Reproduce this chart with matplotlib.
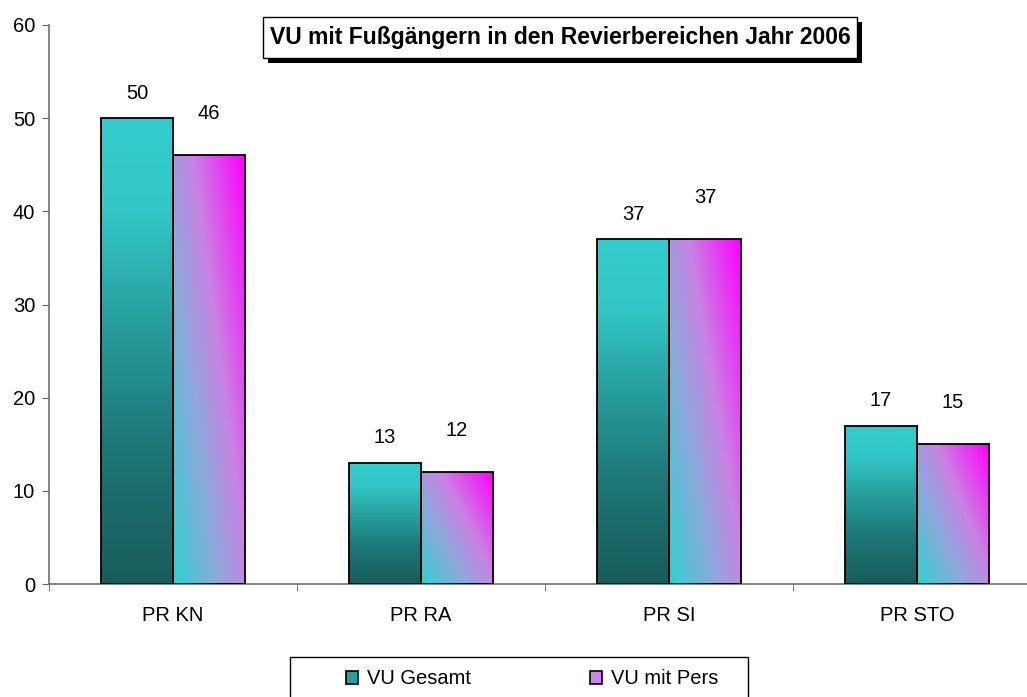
import matplotlib
matplotlib.use("Agg")
import matplotlib.pyplot as plt
import numpy as np
from matplotlib.colors import LinearSegmentedColormap
from matplotlib.patches import Rectangle, Patch

plt.rcParams['font.family'] = ['Liberation Sans', 'DejaVu Sans']

categories = ["PR KN", "PR RA", "PR SI", "PR STO"]
vu_gesamt = [50, 13, 37, 17]
vu_mit_pers = [46, 12, 37, 15]
series_names = ["VU Gesamt", "VU mit Pers"]
title = "VU mit Fußgängern in den Revierbereichen Jahr 2006"
yticks = [0, 10, 20, 30, 40, 50, 60]

W, H = 1027, 697
fig = plt.figure(figsize=(W / 100, H / 100), dpi=100)
ax_left = 49 / W
ax_right = (49 + 4 * 248) / W
ax_bottom = (H - 584) / H
ax_top = (H - 25) / H
ax = fig.add_axes([ax_left, ax_bottom, ax_right - ax_left, ax_top - ax_bottom])

x = np.arange(len(categories))
bw = 72 / 248

teal_cmap = LinearSegmentedColormap.from_list(
    "teal", [(0, "#185c5c"), (0.3, "#1e7777"), (0.6, "#29a4a4"), (0.8, "#33c6c6"), (1, "#33cccc")])
mag_cmap = LinearSegmentedColormap.from_list(
    "mag", [(0, "#33d0d0"), (0.35, "#90a8dc"), (0.6, "#cc80e4"), (1, "#ff00ff")])

ax.set_xlim(-0.5, len(categories) - 0.5)
ax.set_ylim(0, 60)

def grad_bar(xc, h, cmap, kind):
    rect = Rectangle((xc - bw / 2, 0), bw, h, facecolor="none", edgecolor="black", lw=1.3, zorder=3)
    ax.add_patch(rect)
    n = 200
    if kind == "v":
        img = np.linspace(0, 1, n)[:, None] * np.ones((1, 2))
    else:
        u = np.linspace(0, 1, n)[None, :]
        v = np.linspace(0, 1, n)[:, None]
        img = 0.55 * u + 0.45 * v
    im = ax.imshow(img, cmap=cmap, origin="lower", extent=(xc - bw / 2, xc + bw / 2, 0, h),
                   aspect="auto", zorder=2, vmin=0, vmax=1, interpolation="bilinear")
    clip = Rectangle((xc - bw / 2, 0), bw, h, transform=ax.transData)
    im.set_clip_path(clip)

for i in range(len(categories)):
    grad_bar(x[i] - bw / 2, vu_gesamt[i], teal_cmap, "v")
    grad_bar(x[i] + bw / 2, vu_mit_pers[i], mag_cmap, "d")
    ax.annotate(str(vu_gesamt[i]), (x[i] - bw / 2, vu_gesamt[i]), xytext=(0, 14),
                textcoords="offset points", ha="center", va="baseline", fontsize=14.5)
    ax.annotate(str(vu_mit_pers[i]), (x[i] + bw / 2, vu_mit_pers[i]), xytext=(0, 26),
                textcoords="offset points", ha="center", va="baseline", fontsize=14.5)

ax.set_xlim(-0.5, len(categories) - 0.5)
ax.set_ylim(0, 60)
ax.set_yticks(yticks)
ax.set_xticks(x)
ax.set_xticklabels(categories, fontsize=14.5)
ax.tick_params(axis="x", length=0, pad=16)
ax.set_xticks(np.arange(len(categories) + 1) - 0.5, minor=True)
ax.tick_params(axis="x", which="minor", length=5, direction="out", color="#606060")
ax.tick_params(axis="y", labelsize=14.5, length=5, direction="out", color="#606060", pad=5)
for s in ["top", "right"]:
    ax.spines[s].set_visible(False)
for s in ["left", "bottom"]:
    ax.spines[s].set_color("#707070")
    ax.spines[s].set_linewidth(1.2)

# Title with shadow box
tx0, tx1, ty0, ty1 = 263, 857, 17, 58
sh = 5
fig.patches.append(Rectangle(((tx0 + sh) / W, 1 - (ty1 + sh) / H), (tx1 - tx0) / W, (ty1 - ty0) / H,
                             transform=fig.transFigure, facecolor="black", edgecolor="none", zorder=4))
fig.patches.append(Rectangle((tx0 / W, 1 - ty1 / H), (tx1 - tx0) / W, (ty1 - ty0) / H,
                             transform=fig.transFigure, facecolor="white", edgecolor="black",
                             lw=1.0, zorder=5))
fig.text((tx0 + tx1) / 2 / W, 1 - (ty0 + ty1) / 2 / H, title, ha="center", va="center",
         fontsize=16.5, fontweight="bold", zorder=6)

# Legend frame (extends below the image edge)
fig.patches.append(Rectangle((290 / W, 1 - 720 / H), (748 - 290) / W, (720 - 657) / H,
                             transform=fig.transFigure, facecolor="white", edgecolor="black",
                             lw=1.0, zorder=1))
handles = [Patch(facecolor="#2a9e9e", edgecolor="black", lw=1.2),
           Patch(facecolor="#cf86ea", edgecolor="black", lw=1.2)]
leg = fig.legend(handles, series_names, loc="center left", bbox_to_anchor=(346 / W, 1 - 679 / H),
                 ncol=2, fontsize=14.5, frameon=False,
                 handlelength=0.6, handleheight=0.6, handletextpad=0.45, columnspacing=5.9,
                 borderpad=0, borderaxespad=0)
leg.set_zorder(3)

fig.savefig("out.png", dpi=100)
